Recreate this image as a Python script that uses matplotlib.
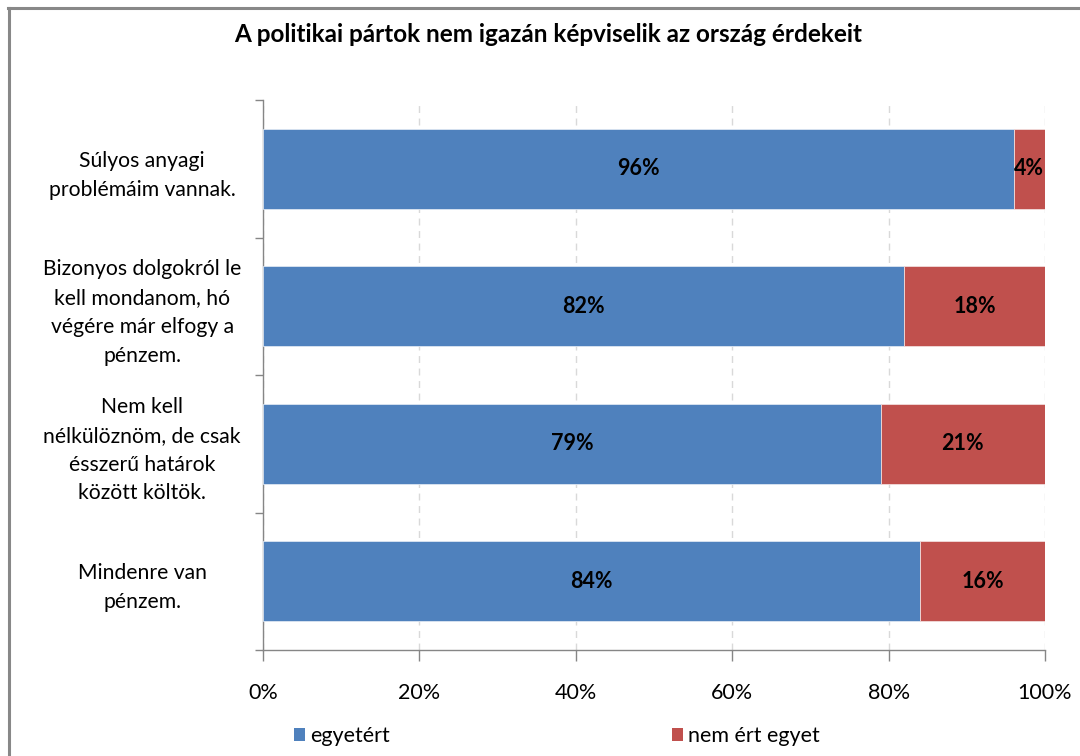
import matplotlib
matplotlib.use("Agg")
import matplotlib.pyplot as plt
from matplotlib.lines import Line2D
from matplotlib.patches import Patch

plt.rcParams['font.family'] = ['Lato', 'DejaVu Sans']

title = "A politikai pártok nem igazán képviselik az ország érdekeit"
categories = [
    "Súlyos anyagi\nproblémáim vannak.",
    "Bizonyos dolgokról le\nkell mondanom, hó\nvégére már elfogy a\npénzem.",
    "Nem kell\nnélkülöznöm, de csak\nésszerű határok\nközött költök.",
    "Mindenre van\npénzem.",
]
agree = [96, 82, 79, 84]
disagree = [4, 18, 21, 16]
series_names = ["egyetért", "nem ért egyet"]
xticks = [0, 20, 40, 60, 80, 100]
xticklabels = ["0%", "20%", "40%", "60%", "80%", "100%"]

blue = "#4F81BD"
red = "#C0504D"

fig = plt.figure(figsize=(10.8, 7.56), dpi=100)
ax = fig.add_axes([263/1080, 1 - 650/756, (1045-263)/1080, 550/756])

n = len(categories)
ypos = list(range(n))
bh = 0.58
ax.barh(ypos, agree, height=bh, color=blue, edgecolor="#DCE6F2", linewidth=0.6, zorder=3)
ax.barh(ypos, disagree, left=agree, height=bh, color=red, edgecolor="#F2DCDB", linewidth=0.6, zorder=3)

for i in ypos:
    ax.text(agree[i] / 2, i, f"{agree[i]}%", ha="center", va="center",
            fontsize=15.5, fontweight="bold", color="black", zorder=4)
    ax.text(agree[i] + disagree[i] / 2, i, f"{disagree[i]}%", ha="center", va="center",
            fontsize=15.5, fontweight="bold", color="black", zorder=4)

ax.set_xlim(0, 100)
ax.set_ylim(n - 0.5, -0.5)
ax.set_xticks(xticks)
ax.set_xticklabels(xticklabels, fontsize=15.5)
ax.set_yticks([y - 0.5 for y in range(n + 1)])
ax.set_yticklabels([])
ax.set_yticks(ypos, minor=True)
ax.set_yticklabels(categories, minor=True, fontsize=15.2, ha="center", linespacing=1.55)
ax.tick_params(axis="y", which="minor", length=0, pad=87)
ax.tick_params(axis="y", which="major", length=6, color="#868686", width=1)
ax.tick_params(axis="x", length=8, color="#868686", width=1, pad=16, direction="out")

for s in ["top", "right"]:
    ax.spines[s].set_visible(False)
for s in ["left", "bottom"]:
    ax.spines[s].set_color("#868686")
    ax.spines[s].set_linewidth(1)

ax.xaxis.grid(True, linestyle=(0, (5, 4)), color="#D9D9D9", linewidth=1, zorder=0)
ax.set_axisbelow(True)

fig.text(548/1080, 1 - 35/756, title, ha="center", va="center",
         fontsize=17.5, fontweight="bold")

handles = [Patch(facecolor=blue), Patch(facecolor=red)]
fig.legend(handles, series_names, loc="center", bbox_to_anchor=(557/1080, 1 - 736/756),
           ncol=2, frameon=False, fontsize=15.5, handlelength=0.5, handleheight=0.6,
           handletextpad=0.25, columnspacing=13.1)

# outer chart border (top and left visible)
fig.add_artist(Line2D([8/1080, 1], [1 - 7.5/756, 1 - 7.5/756], transform=fig.transFigure,
                      color="#888888", linewidth=2.2))
fig.add_artist(Line2D([9/1080, 9/1080], [0, 1 - 7.5/756], transform=fig.transFigure,
                      color="#888888", linewidth=2.2))

fig.savefig("out.png", dpi=100)
